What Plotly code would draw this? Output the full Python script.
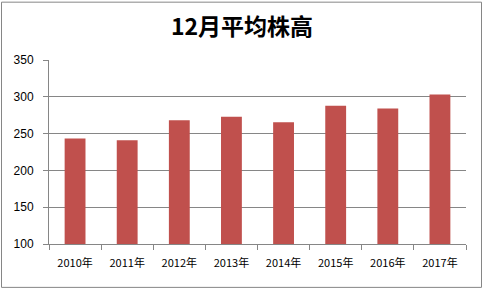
import plotly.graph_objects as go

years = ["2010年", "2011年", "2012年", "2013年", "2014年", "2015年", "2016年", "2017年"]
heights = [243.5, 241, 268, 273, 265.5, 288, 284, 303]
y_ticks = [100, 150, 200, 250, 300, 350]

W, H = 484, 292
ml, mr, mt, mb = 49, 18, 59.5, 48
pw = W - ml - mr
ph = H - mt - mb

fig = go.Figure(go.Bar(x=years, y=heights, marker_color="#C0504D", marker_line_width=0))

def px_x(p):
    return (p - ml) / pw

def px_y(p):
    return (H - mb - p) / ph

fig.update_layout(
    width=W, height=H,
    margin=dict(l=ml, r=mr, t=mt, b=mb),
    paper_bgcolor="white", plot_bgcolor="white",
    bargap=0.6,
    showlegend=False,
    title=dict(text="<b>12月平均株高</b>", x=0.5, xanchor="center", y=1 - 27 / H, yanchor="middle",
               font=dict(family="Noto Sans CJK SC", size=23, color="black")),
    font=dict(family="Noto Sans CJK SC, DejaVu Sans", size=11, color="black"),
    xaxis=dict(showline=True, linecolor="#868686", linewidth=1, ticks="outside", tickson="boundaries",
               ticklen=5, tickcolor="#868686", showgrid=False, ticklabelstandoff=9,
               tickfont=dict(family="Noto Sans CJK SC", size=11)),
    yaxis=dict(range=[100, 350], tickvals=y_ticks, showline=True, linecolor="#868686", linewidth=1,
               ticks="outside", ticklen=5, tickcolor="#868686", showgrid=True, gridcolor="#868686",
               gridwidth=1, zeroline=False, ticklabelstandoff=7,
               tickfont=dict(family="Liberation Sans", size=12)),
    shapes=[dict(type="rect", xref="paper", yref="paper",
                 x0=px_x(1.5), x1=px_x(481.5), y0=px_y(287.5), y1=px_y(1.5),
                 line=dict(color="#868686", width=1), fillcolor="rgba(0,0,0,0)", layer="below")],
)

fig.write_html("out.html")
